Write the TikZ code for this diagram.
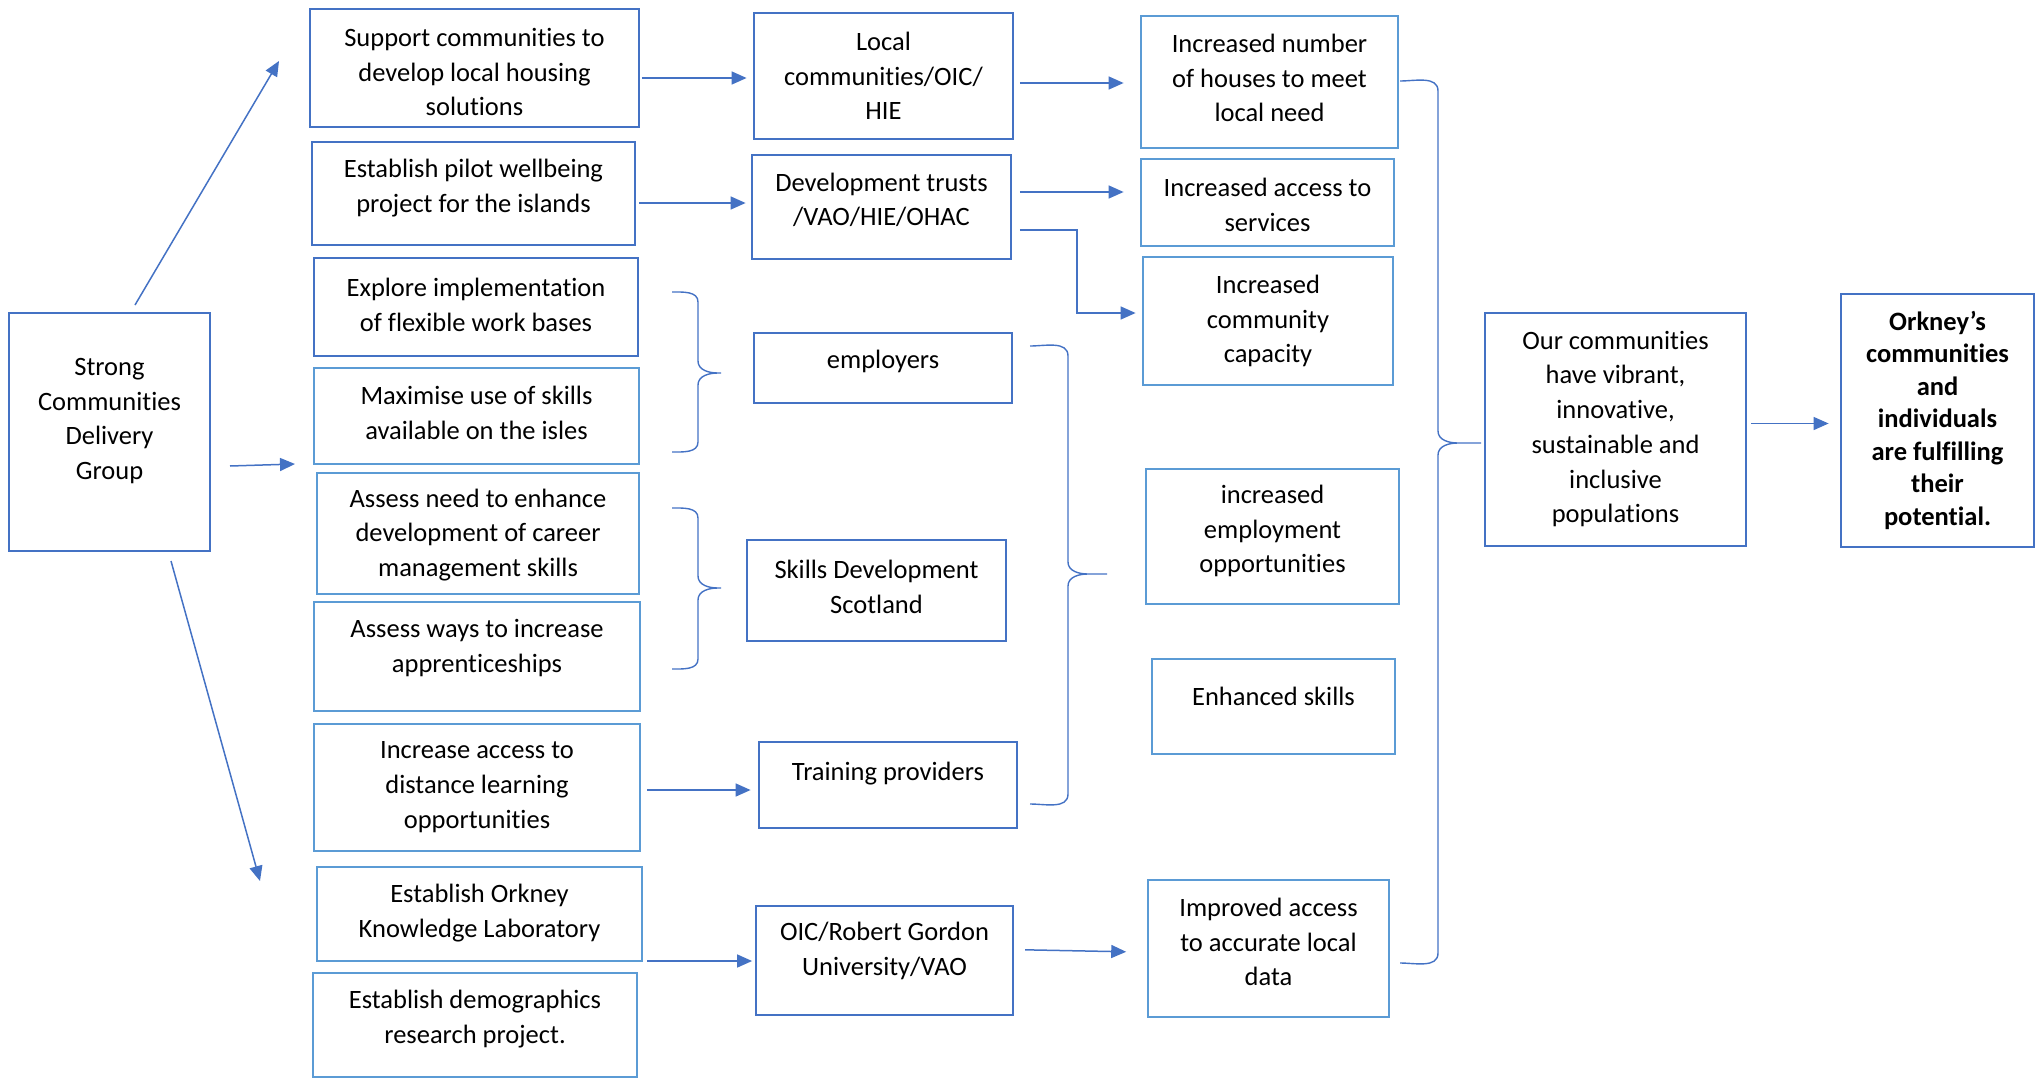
\documentclass[tikz,border=0pt]{standalone}
\usepackage{fontspec}
\setmainfont{Carlito}[Ligatures={NoCommon,NoRequired,NoContextual}]
\usetikzlibrary{arrows.meta}
\definecolor{dk}{HTML}{4472C4}
\definecolor{lt}{HTML}{5B9BD5}
\tikzset{
 dkbox/.style={draw=dk, line width=2.8pt, rectangle, inner sep=0pt},
 ltbox/.style={draw=lt, line width=2.8pt, rectangle, inner sep=0pt},
 txt/.style={align=center, font=\fontsize{26.5}{34.7}\selectfont, inner sep=0pt},
 txtb/.style={align=center, font=\bfseries\fontsize{26.5}{32.5}\selectfont, inner sep=0pt},
 arr/.style={draw=dk, line width=1.5pt, -{Triangle[length=15pt,width=13pt]}},
 brc/.style={draw=dk, line width=1.4pt},
}
\newcommand\bx[8]{%
 \node[#2, minimum width={(#5-#3)*1pt}, minimum height={(#6-#4)*1pt}] (#1) at ({(#3+#5)/2},{(#4+#6)/2}) {};
 \node[txt] (#1t) at ({(#3+#5)/2},#7) {#8};}
% brace: x0 (open ends), y0 top, y1 bottom, xv vertical, xt tip, ym middle
\newcommand\brc[6]{%
 \draw[brc] (#1,#2) to[out=0,in=90] (#4,#2+10) -- (#4,#6-12) to[out=-90,in=180] ({#4+20},#6) -- (#5,#6)
   (#5,#6) -- ({#4+20},#6) to[out=180,in=90] (#4,#6+12) -- (#4,#3-10) to[out=-90,in=0] (#1,#3);}
\begin{document}
\begin{tikzpicture}[x=1pt,y=-1pt]
\useasboundingbox (0,0) rectangle (2037,1081);
% column 0
\bx{strong}{dkbox}{9}{313}{210}{551}{421}{Strong\\Communities\\Delivery\\Group}
% column 1
\bx{sup}{dkbox}{310}{9}{639}{127}{72}{Support communities to\\develop local housing\\solutions}
\bx{pil}{dkbox}{312}{142}{635}{245}{188}{Establish pilot wellbeing\\project for the islands}
\bx{exp}{dkbox}{314}{258}{638}{356}{305}{Explore implementation\\of flexible work bases}
\bx{max}{ltbox}{314}{368}{639}{464}{413}{Maximise use of skills\\available on the isles}
\bx{ane}{ltbox}{317}{473}{639}{594}{535}{Assess need to enhance\\development of career\\management skills}
\bx{awa}{ltbox}{314}{602}{640}{711}{648}{Assess ways to increase\\apprenticeships}
\bx{dis}{ltbox}{314}{724}{640}{851}{787}{Increase access to\\distance learning\\opportunities}
\bx{kno}{ltbox}{317}{867}{642}{961}{913}{Establish Orkney\\Knowledge Laboratory}
\bx{dem}{ltbox}{313}{973}{637}{1077}{1019}{Establish demographics\\research project.}
% column 2
\bx{loc}{dkbox}{754}{13}{1013}{139}{76}{Local\\communities/OIC/\\HIE}
\bx{dev}{dkbox}{752}{155}{1011}{259}{200}{Development trusts\\/VAO/HIE/OHAC}
\bx{emp}{dkbox}{754}{333}{1012}{403}{361}{employers}
\bx{sds}{dkbox}{747}{540}{1006}{641}{587}{Skills Development\\Scotland}
\bx{tra}{dkbox}{759}{742}{1017}{828}{774}{Training providers}
\bx{oic}{dkbox}{756}{906}{1013}{1015}{951}{OIC/Robert Gordon\\University/VAO}
% column 3
\bx{inn}{ltbox}{1141}{16}{1398}{148}{78}{Increased number\\of houses to meet\\local need}
\bx{ias}{ltbox}{1141}{159}{1394}{246}{205}{Increased access to\\services}
\bx{icc}{ltbox}{1143}{257}{1393}{385}{321}{Increased\\community\\capacity}
\bx{iem}{ltbox}{1146}{469}{1399}{604}{531}{increased\\employment\\opportunities}
\bx{esk}{ltbox}{1152}{659}{1395}{754}{696}{Enhanced skills}
\bx{iac}{ltbox}{1148}{880}{1389}{1017}{942}{Improved access\\to accurate local\\data}
% column 4
\bx{our}{dkbox}{1485}{313}{1746}{546}{429}{Our communities\\have vibrant,\\innovative,\\sustainable and\\inclusive\\populations}
\node[dkbox, minimum width=193pt, minimum height=253pt] (ork) at (1937.5,420.5) {};
\node[txtb] (orkt) at (1937.5,420) {Orkney’s\\communities\\and\\individuals\\are fulfilling\\their\\potential.};
% arrows from the delivery group
\coordinate (a1s) at (135,305); \coordinate (a1e) at (279,61);
\coordinate (a2s) at (230,466); \coordinate (a2e) at (295,464);
\coordinate (a3s) at (171,561); \coordinate (a3e) at (260,881);
\draw[arr] (a1s) -- (a1e);
\draw[arr] (a2s) -- (a2e);
\draw[arr] (a3s) -- (a3e);
% horizontal arrows
\draw[arr, shorten <=1.5pt, shorten >=6pt] (sup.east |- 0,78) -- (loc.west |- 0,78);
\draw[arr, shorten <=3pt, shorten >=5pt] (pil.east |- 0,203) -- (dev.west |- 0,203);
\draw[arr, shorten <=5.5pt, shorten >=16pt] (loc.east |- 0,83) -- (inn.west |- 0,83);
\draw[arr, shorten <=7.5pt, shorten >=16pt] (dev.east |- 0,192) -- (ias.west |- 0,192);
\draw[arr, shorten <=7.5pt, shorten >=6pt] (dev.east |- 0,230) -- (1077,230) -- (1077,313) -- (icc.west |- 0,313);
\draw[arr, shorten <=5.6pt, shorten >=7pt] (dis.east |- 0,790) -- (tra.west |- 0,790);
\draw[arr, shorten <=3.6pt, shorten >=2.5pt] (kno.east |- 0,961) -- (oic.west |- 0,961);
\draw[arr, shorten <=10.7pt, shorten >=20.4pt] (oic.east |- 0,949.6) -- (iac.west |- 0,952.2);
\draw[arr, shorten <=4pt, shorten >=11pt] (our.east |- 0,423.5) -- (ork.west |- 0,423.5);
% braces
\brc{672}{292}{452}{698}{721}{373}
\brc{672}{508}{669}{698}{721}{588}
\brc{1030}{346}{804}{1068}{1107}{574}
\brc{1400}{81}{963}{1438}{1481}{443}
\end{tikzpicture}
\end{document}
